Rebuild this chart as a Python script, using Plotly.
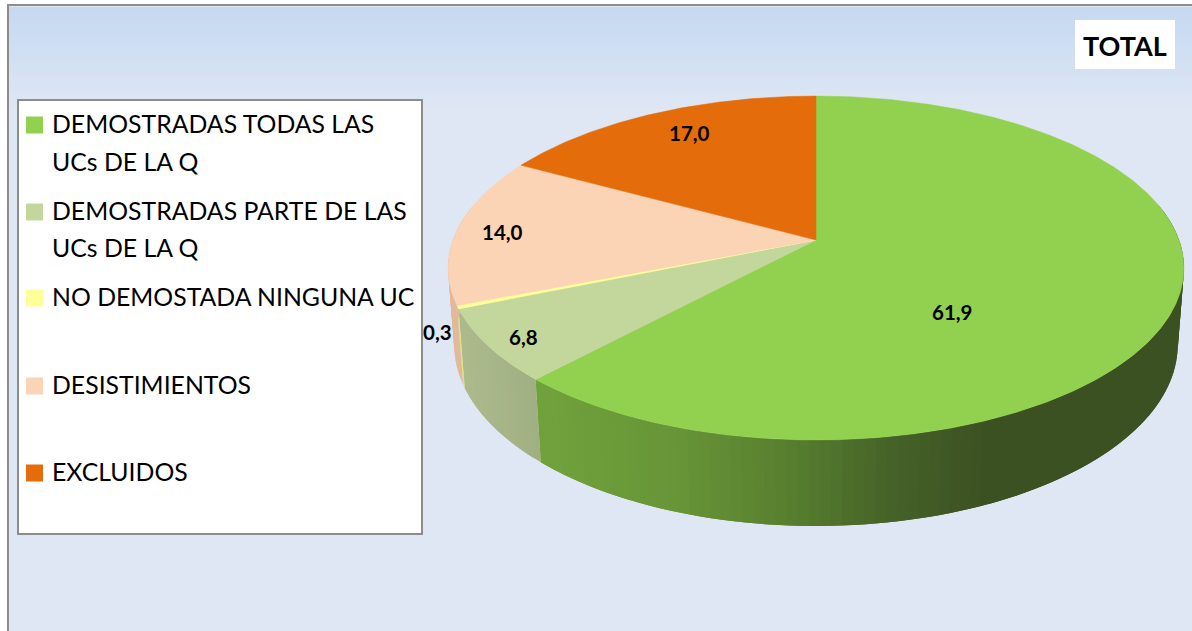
import numpy as np
import plotly.graph_objects as go

# ---------- data ----------
categories = ["DEMOSTRADAS TODAS LAS UCs DE LA Q", "DEMOSTRADAS PARTE DE LAS UCs DE LA Q",
              "NO DEMOSTADA NINGUNA UC", "DESISTIMIENTOS", "EXCLUIDOS"]
legend_lines = [["DEMOSTRADAS TODAS LAS", "UCs DE LA Q"], ["DEMOSTRADAS PARTE DE LAS", "UCs DE LA Q"],
                ["NO DEMOSTADA NINGUNA UC"], ["DESISTIMIENTOS"], ["EXCLUIDOS"]]
values = [61.9, 6.8, 0.3, 14.0, 17.0]
value_labels = ["61,9", "6,8", "0,3", "14,0", "17,0"]
title_text = "TOTAL"

# ---------- styles / layout ----------
top_colors = ["#92D050", "#C3D69B", "#FFFF99", "#FBD3B5", "#E46C0A"]
side_stops = [
    [(540, (112, 162, 60)), (680, (103, 148, 55)), (800, (86, 124, 46)), (900, (68, 96, 40)), (990, (60, 81, 34)), (1190, (60, 81, 34))],
    [(460, (172, 186, 140)), (540, (160, 175, 130))],
    [(450, (225, 225, 130)), (470, (225, 225, 130))],
    [(445, (225, 185, 155)), (470, (225, 185, 155))],
    [(445, (180, 90, 10)), (470, (180, 90, 10))],
]
label_xy = [(952, 312), (523, 337), (437, 332), (502, 232), (689, 133)]
legend_y = [(124, 162), (211, 248), (297,), (385,), (472,)]
FONT = "Lato"
CX, CY, A, B, K = 816.0, 240.0, 363.0, 167.4, 0.163   # top-face perspective
H, M = 76.7, 0.0165                                    # extrusion


def top_pt(t):
    u, v = np.sin(t), -np.cos(t)
    w = 1 - K * v
    return CX + A * u / w, CY + B * v / w


def bot_pt(t):
    u, v = np.sin(t), -np.cos(t)
    w = 1 - K * v + M
    return CX + A * u / w, CY + (B * v + H) / w


def side_col(i, x):
    st = side_stops[i]
    xs = [s[0] for s in st]
    rgb = [int(round(np.interp(x, xs, [s[1][c] for s in st]))) for c in range(3)]
    return "rgb(%d,%d,%d)" % tuple(rgb)


total = sum(values)
edges = np.concatenate([[0], np.cumsum(values)]) / total * 2 * np.pi

fig = go.Figure()

# side wall: overlapping bands so that no seams show
for i in range(len(values)):
    n = max(2, int(np.ceil((edges[i + 1] - edges[i]) / np.radians(1.5))))
    ts = np.linspace(edges[i], edges[i + 1], n + 1)
    for a, b in zip(ts[:-1], ts[1:]):
        if -np.cos((a + b) / 2) < -0.2:
            continue
        tt = np.linspace(a, min(b + np.radians(1.5), edges[i + 1]), 4)
        x1, y1 = top_pt(tt)
        x2, y2 = bot_pt(tt[::-1])
        col = side_col(i, float(top_pt((a + b) / 2)[0]))
        fig.add_trace(go.Scatter(x=np.r_[x1, x2, x1[0]], y=np.r_[y1, y2, y1[0]], mode="lines",
                                 fill="toself", fillcolor=col, line=dict(width=0),
                                 hoverinfo="skip", showlegend=False))

# top face
for i, name in enumerate(categories):
    tt = np.linspace(edges[i], edges[i + 1], max(3, int((edges[i + 1] - edges[i]) / np.radians(0.5))))
    x, y = top_pt(tt)
    fig.add_trace(go.Scatter(x=np.r_[CX, x, CX], y=np.r_[CY, y, CY], mode="lines", fill="toself",
                             fillcolor=top_colors[i], line=dict(color=top_colors[i], width=0.5),
                             name=name, hoverinfo="name", showlegend=False))

shapes = [dict(type="rect", xref="x", yref="y", x0=8, x1=1194, y0=5, y1=634, layer="below",
               fillcolor="#E0E7F4", line=dict(color="#8C8C8C", width=2))]
# background gradient
for y in range(7, 112, 3):
    f = (y - 7) / 105
    c = tuple(int(round(p + (q - p) * f)) for p, q in zip((197, 217, 241), (224, 231, 244)))
    shapes.append(dict(type="rect", xref="x", yref="y", x0=9, x1=1192, y0=y, y1=y + 3, layer="below",
                       fillcolor="rgb(%d,%d,%d)" % c, line=dict(width=0)))
# legend box + title box
shapes.append(dict(type="rect", xref="x", yref="y", x0=18, x1=422, y0=100, y1=534, layer="below",
                   fillcolor="white", line=dict(color="#8C8C8C", width=2)))
shapes.append(dict(type="rect", xref="x", yref="y", x0=1075, x1=1175, y0=20, y1=69, layer="below",
                   fillcolor="white", line=dict(width=0)))
for i, ys in enumerate(legend_y):
    shapes.append(dict(type="rect", xref="x", yref="y", x0=26, x1=43, y0=ys[0] - 7.5, y1=ys[0] + 9.5,
                       fillcolor=top_colors[i], line=dict(width=0)))

ann = []
for lines, ys in zip(legend_lines, legend_y):
    for line, y in zip(lines, ys):
        ann.append(dict(x=49.5, y=y - 1, xref="x", yref="y", text=line, showarrow=False, xanchor="left",
                        yanchor="middle", font=dict(family=FONT, size=24.8, color="#000000")))
for t, (x, y) in zip(value_labels, label_xy):
    ann.append(dict(x=x, y=y, xref="x", yref="y", text="<b>%s</b>" % t, showarrow=False,
                    font=dict(family=FONT, size=20.5, color="#000000")))
ann.append(dict(x=1125, y=45, xref="x", yref="y", text="<b>%s</b>" % title_text, showarrow=False,
                font=dict(family=FONT, size=27, color="#000000")))

fig.update_layout(
    width=1192, height=631, margin=dict(l=0, r=0, t=0, b=0), paper_bgcolor="white", plot_bgcolor="white",
    xaxis=dict(range=[0, 1192], visible=False, fixedrange=True),
    yaxis=dict(range=[631, 0], visible=False, fixedrange=True),
    shapes=shapes, annotations=ann, showlegend=False,
)
fig.write_html("out.html", config=dict(displayModeBar=False),
               post_script="document.body.style.margin='0';document.body.style.overflow='hidden';")
